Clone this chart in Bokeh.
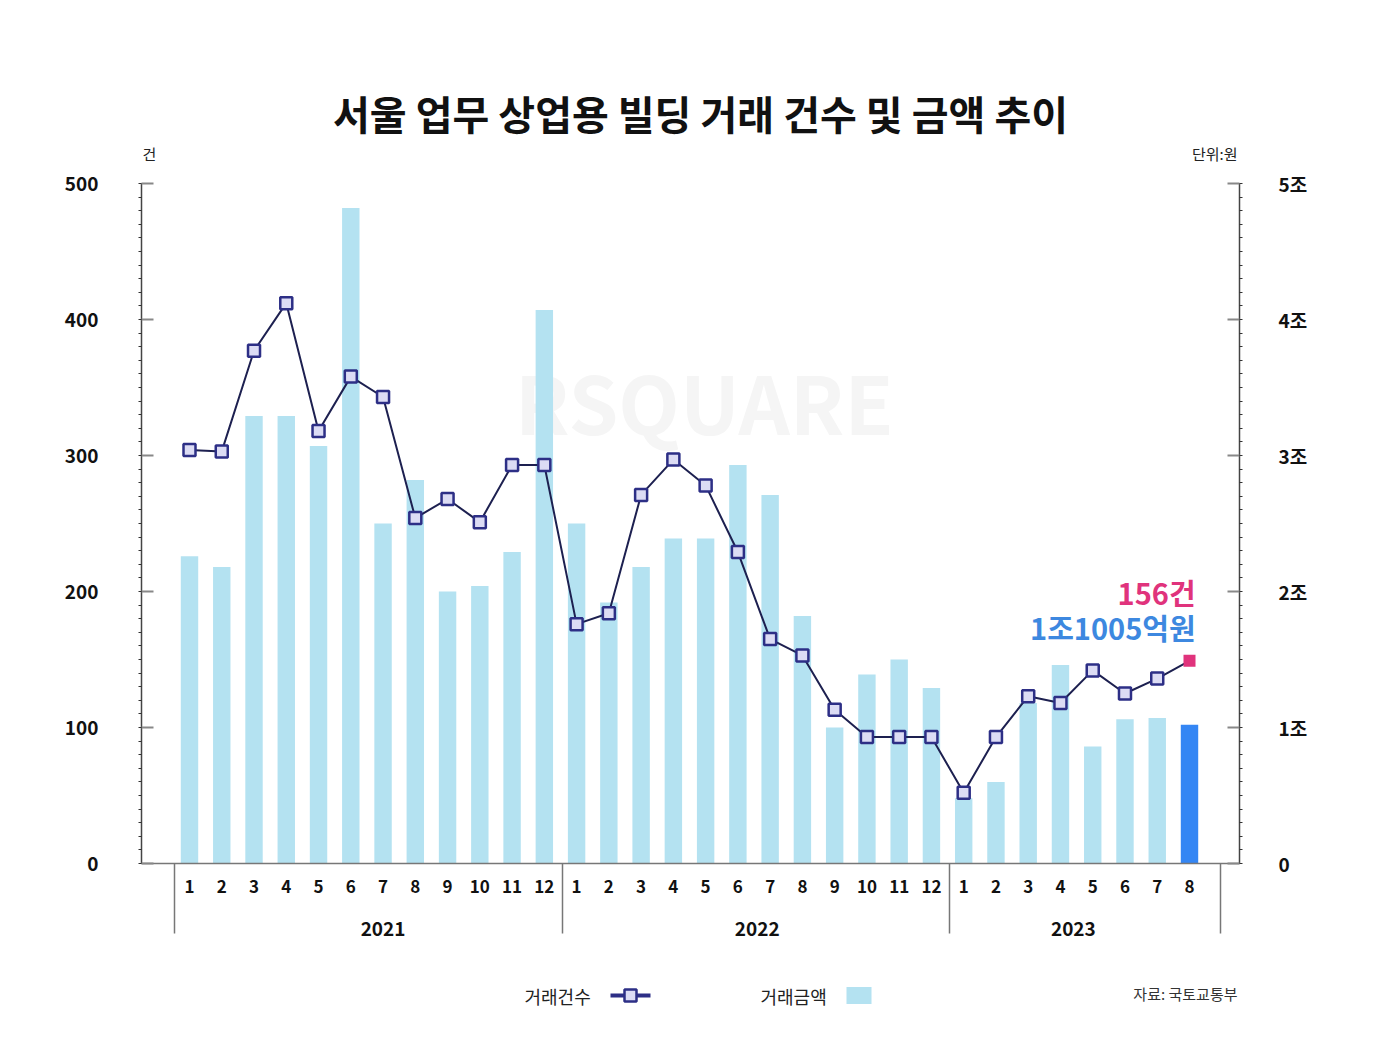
from bokeh.plotting import figure
from bokeh.models import (Range1d, LinearAxis, FixedTicker, CustomJSTickFormatter,
                          Label, ColumnDataSource)
from bokeh.layouts import column
from bokeh.embed import file_html
from bokeh.resources import INLINE
from bokeh.core.properties import value

# ---------------- data ----------------
years = ["2021", "2022", "2023"]
months_per_year = [12, 12, 8]
month_labels = [str(m) for n in months_per_year for m in range(1, n + 1)]

# 거래건수 (건)
counts = [304, 303, 377, 412, 318, 358, 343, 254, 268, 251, 293, 293,
          176, 184, 271, 297, 278, 229, 165, 153, 113, 93, 93, 93,
          52, 93, 123, 118, 142, 125, 136, 149]
# 거래금액 (조원)
amounts = [2.26, 2.18, 3.29, 3.29, 3.07, 4.82, 2.50, 2.82, 2.00, 2.04, 2.29, 4.07,
           2.50, 1.92, 2.18, 2.39, 2.39, 2.93, 2.71, 1.82, 1.00, 1.39, 1.50, 1.29,
           0.48, 0.60, 1.18, 1.46, 0.86, 1.06, 1.07, 1.02]

left_ticks = [0, 100, 200, 300, 400, 500]
right_ticks = [0, 1, 2, 3, 4, 5]
right_tick_labels = ["0", "1조", "2조", "3조", "4조", "5조"]

title_text = "서울 업무 상업용 빌딩 거래 건수 및 금액 추이"
left_unit = "건"
right_unit = "단위:원"
latest_count_label = "156건"
latest_amount_label = "1조1005억원"
legend_count = "거래건수"
legend_amount = "거래금액"
source_text = "자료: 국토교통부"

# ---------------- styles ----------------
KR = "Noto Sans CJK KR"
BAR = "#b4e2f1"
BAR_HI = "#3486f4"
LINE = "#1d2050"
MK_LINE = "#2d2f86"
MK_FILL = "#dcdcf4"
PINK = "#e0337c"
BLUE = "#3d88e0"

n = len(counts)
xs = list(range(n))

W = 1375
FL, FR = 141, 1239          # frame left / right (px)
HEAD_H = 163
MAIN_TOP, FRAME_H, MAIN_BOT = 20, 680, 85
MAIN_H = MAIN_TOP + FRAME_H + MAIN_BOT
LEG_TOP = HEAD_H + MAIN_H
LEG_H = 100

# ---------------- header ----------------
hd = figure(width=W, height=HEAD_H, x_range=Range1d(FL, FR), y_range=Range1d(HEAD_H, 0),
            output_backend="svg", toolbar_location=None,
            x_axis_location=None, y_axis_location=None, min_border=0)
hd.outline_line_color = None
hd.grid.visible = False
hd.text(x=[700], y=[112], text=[title_text], text_font=value(KR), text_font_style="bold",
        text_font_size=value("40px"), text_color="#111", text_align="center",
        text_baseline="middle")
hd.text(x=[149], y=[153], text=[left_unit], text_font=value(KR), text_font_size=value("15px"),
        text_color="#222", text_align="center", text_baseline="middle")
hd.text(x=[1237], y=[153], text=[right_unit], text_font=value(KR), text_font_size=value("15px"),
        text_color="#222", text_align="right", text_baseline="middle")

# ---------------- main chart ----------------
p = figure(width=W, height=MAIN_H,
           x_range=Range1d(-1.488, n + 0.55), y_range=Range1d(0, 500),
           output_backend="svg", toolbar_location=None,
           x_axis_location=None, y_axis_location=None,
           min_border_left=FL, min_border_right=W - FR,
           min_border_top=MAIN_TOP, min_border_bottom=MAIN_BOT)
p.extra_y_ranges = {"amt": Range1d(0, 5)}
p.outline_line_color = None
p.grid.visible = False
p.background_fill_color = "white"
p.border_fill_color = "white"

left = LinearAxis(ticker=FixedTicker(ticks=left_ticks, minor_ticks=list(range(0, 501, 10))))
right = LinearAxis(y_range_name="amt",
                   ticker=FixedTicker(ticks=right_ticks, minor_ticks=[i / 10 for i in range(0, 51)]))
right.major_label_overrides = {t: l for t, l in zip(right_ticks, right_tick_labels)}
for ax, st in ((left, 40), (right, 36)):
    ax.axis_line_color = "#444"
    ax.axis_line_width = 1.5
    ax.major_tick_in = 12
    ax.major_tick_out = 0
    ax.major_tick_line_color = "#888"
    ax.major_tick_line_width = 2
    ax.minor_tick_in = 0
    ax.minor_tick_out = 3
    ax.minor_tick_line_color = "#333"
    ax.major_label_standoff = st
    ax.major_label_text_font = KR
    ax.major_label_text_font_style = "bold"
    ax.major_label_text_font_size = "19px"
    ax.major_label_text_color = "#111"
p.add_layout(left, "left")
p.add_layout(right, "right")

# year boundaries (group separators)
bounds = [-0.45]
acc = 0
for m in months_per_year:
    acc += m
    bounds.append(acc - 0.45)
bounds[-1] = acc - 0.05

month_axis = LinearAxis(ticker=FixedTicker(ticks=xs, minor_ticks=bounds))
month_axis.major_label_overrides = {i: l for i, l in enumerate(month_labels)}
month_axis.axis_line_color = "#777"
month_axis.axis_line_width = 1.5
month_axis.major_tick_line_color = None
month_axis.major_tick_in = 0
month_axis.major_tick_out = 0
month_axis.minor_tick_in = 0
month_axis.minor_tick_out = 70
month_axis.minor_tick_line_color = "#777"
month_axis.minor_tick_line_width = 1.5
month_axis.major_label_standoff = -54
month_axis.major_label_text_font = KR
month_axis.major_label_text_font_style = "bold"
month_axis.major_label_text_font_size = "17px"
month_axis.major_label_text_color = "#111"
p.add_layout(month_axis, "below")

year_pos = [6.0, 17.6, 27.4]
year_map = {str(pos).rstrip("0").rstrip("."): y for pos, y in zip(year_pos, years)}
js_map = "{" + ",".join(f'"{k}":"{v}"' for k, v in year_map.items()) + "}"
year_axis = LinearAxis(ticker=FixedTicker(ticks=year_pos),
                       formatter=CustomJSTickFormatter(code=f"const m = {js_map}; const v = m[String(tick)]; return v === undefined ? '' : v;"))
year_axis.axis_line_color = None
year_axis.major_tick_line_color = None
year_axis.minor_tick_line_color = None
year_axis.major_tick_out = 0
year_axis.major_tick_in = 0
year_axis.major_label_standoff = 26
year_axis.major_label_text_font = KR
year_axis.major_label_text_font_style = "bold"
year_axis.major_label_text_font_size = "19px"
year_axis.major_label_text_color = "#111"
p.add_layout(year_axis, "below")

# watermark
p.add_layout(Label(x=15.96, y=341, text="RSQUARE", text_font=KR, text_font_style="bold",
                   text_font_size="80px", text_color="#f5f5f5", text_align="center",
                   text_baseline="middle", level="underlay"))

# bars
bar_src = ColumnDataSource(dict(x=xs[:-1], top=amounts[:-1]))
p.vbar(x="x", top="top", bottom=0, width=0.54, source=bar_src, y_range_name="amt",
       fill_color=BAR, line_color=None)
p.vbar(x=xs[-1:], top=amounts[-1:], bottom=0, width=0.54, y_range_name="amt",
       fill_color=BAR_HI, line_color=None)

# line + markers
p.line(xs, counts, line_color=LINE, line_width=2)
p.scatter(xs[:-1], counts[:-1], marker="square", size=12, fill_color=MK_FILL,
          line_color=MK_LINE, line_width=2.5)
p.scatter(xs[-1:], counts[-1:], marker="square", size=12, fill_color=PINK, line_color=None)

# latest-value callouts
p.add_layout(Label(x=31.19, y=200, text=latest_count_label, text_font=KR, text_font_style="bold",
                   text_font_size="29px", text_color=PINK, text_align="right",
                   text_baseline="middle"))
p.add_layout(Label(x=31.19, y=174, text=latest_amount_label, text_font=KR, text_font_style="bold",
                   text_font_size="29px", text_color=BLUE, text_align="right",
                   text_baseline="middle"))

# ---------------- legend row ----------------
lg = figure(width=W, height=LEG_H, x_range=Range1d(FL, FR), y_range=Range1d(LEG_TOP + LEG_H, LEG_TOP),
            output_backend="svg", toolbar_location=None,
            x_axis_location=None, y_axis_location=None, min_border=0)
lg.outline_line_color = None
lg.grid.visible = False
ly = 995
lg.text(x=[524], y=[ly], text=[legend_count], text_font=value(KR), text_font_size=value("18px"),
        text_color="#222", text_align="left", text_baseline="middle")
lg.line([610, 650], [ly, ly], line_color=MK_LINE, line_width=4)
lg.scatter([630], [ly], marker="square", size=12, fill_color=MK_FILL, line_color=MK_LINE, line_width=2.5)
lg.text(x=[760], y=[ly], text=[legend_amount], text_font=value(KR), text_font_size=value("18px"),
        text_color="#222", text_align="left", text_baseline="middle")
lg.rect(x=[858.5], y=[ly], width=25, height=17, fill_color=BAR, line_color=None)
lg.text(x=[1237], y=[993], text=[source_text], text_font=value(KR), text_font_size=value("15px"),
        text_color="#333", text_align="right", text_baseline="middle")

layout = column(hd, p, lg, spacing=0)
open("out.html", "w").write(file_html(layout, INLINE))
